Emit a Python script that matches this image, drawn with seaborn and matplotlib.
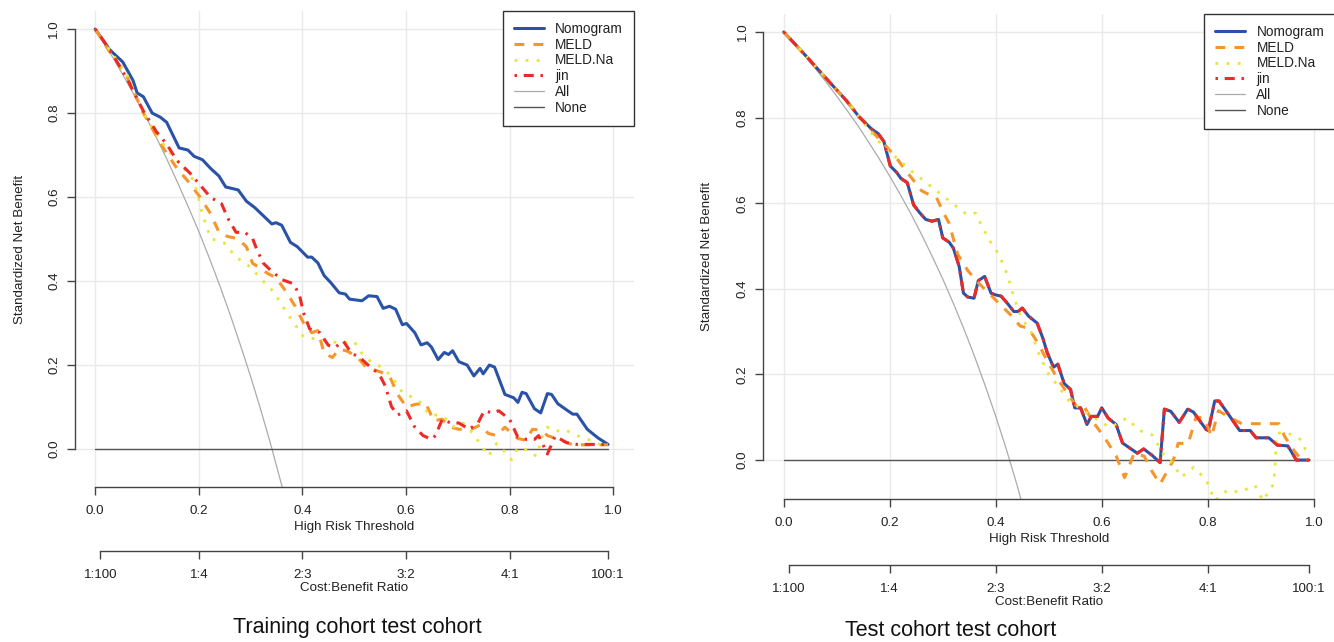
import matplotlib

matplotlib.use("Agg")

import matplotlib.pyplot as plt
import seaborn as sns

# (threshold, standardized net benefit)
train_nomogram = [
    (0.0, 1.0), (0.028, 0.951), (0.053, 0.922), (0.073, 0.878), (0.081, 0.848),
    (0.093, 0.839), (0.110, 0.800), (0.126, 0.790), (0.138, 0.778), (0.162, 0.717),
    (0.179, 0.712), (0.191, 0.697), (0.207, 0.689), (0.223, 0.668), (0.239, 0.650),
    (0.252, 0.624), (0.276, 0.617), (0.292, 0.590), (0.308, 0.575), (0.325, 0.555),
    (0.341, 0.536), (0.349, 0.539), (0.360, 0.533), (0.377, 0.492), (0.390, 0.482),
    (0.410, 0.457), (0.418, 0.457), (0.430, 0.443), (0.442, 0.413), (0.455, 0.396),
    (0.471, 0.372), (0.483, 0.369), (0.491, 0.357), (0.515, 0.353), (0.528, 0.365),
    (0.544, 0.363), (0.556, 0.335), (0.568, 0.340), (0.580, 0.333), (0.593, 0.296),
    (0.601, 0.299), (0.617, 0.277), (0.629, 0.248), (0.641, 0.253), (0.649, 0.243),
    (0.662, 0.213), (0.674, 0.230), (0.682, 0.225), (0.690, 0.234), (0.702, 0.208),
    (0.718, 0.200), (0.731, 0.174), (0.743, 0.192), (0.749, 0.179), (0.761, 0.200),
    (0.771, 0.195), (0.791, 0.130), (0.808, 0.122), (0.816, 0.111), (0.824, 0.135),
    (0.832, 0.132), (0.848, 0.096), (0.860, 0.086), (0.873, 0.132), (0.881, 0.130),
    (0.893, 0.108), (0.909, 0.094), (0.922, 0.083), (0.930, 0.083), (0.950, 0.047),
    (0.970, 0.027), (0.990, 0.011),
]
train_meld = [
    (0.0, 1.0), (0.028, 0.946), (0.061, 0.888), (0.093, 0.800), (0.118, 0.746),
    (0.134, 0.712), (0.158, 0.668), (0.179, 0.638), (0.203, 0.599), (0.223, 0.560),
    (0.239, 0.516), (0.256, 0.506), (0.276, 0.501), (0.292, 0.481), (0.304, 0.442),
    (0.317, 0.432), (0.333, 0.418), (0.349, 0.408), (0.369, 0.374), (0.386, 0.340),
    (0.402, 0.301), (0.418, 0.277), (0.430, 0.282), (0.442, 0.228), (0.458, 0.218),
    (0.471, 0.238), (0.487, 0.233), (0.507, 0.218), (0.524, 0.193), (0.540, 0.188),
    (0.552, 0.183), (0.568, 0.174), (0.584, 0.130), (0.601, 0.100), (0.617, 0.106),
    (0.637, 0.110), (0.645, 0.091), (0.653, 0.067), (0.670, 0.071), (0.686, 0.052),
    (0.702, 0.047), (0.726, 0.047), (0.743, 0.057), (0.759, 0.037), (0.775, 0.032),
    (0.791, 0.052), (0.804, 0.037), (0.816, 0.025), (0.832, 0.021), (0.844, 0.047),
    (0.860, 0.045), (0.873, 0.032), (0.897, 0.022), (0.922, 0.010), (0.954, 0.010),
    (0.990, 0.010),
]
train_meldna = [
    (0.0, 1.0), (0.061, 0.892), (0.093, 0.800), (0.120, 0.745), (0.148, 0.700),
    (0.166, 0.677), (0.191, 0.638), (0.207, 0.560), (0.223, 0.501), (0.248, 0.492),
    (0.272, 0.457), (0.300, 0.433), (0.321, 0.404), (0.345, 0.374), (0.369, 0.326),
    (0.386, 0.296), (0.402, 0.267), (0.426, 0.262), (0.450, 0.257), (0.475, 0.252),
    (0.499, 0.257), (0.515, 0.228), (0.532, 0.208), (0.548, 0.198), (0.572, 0.174),
    (0.593, 0.135), (0.609, 0.125), (0.629, 0.110), (0.645, 0.081), (0.662, 0.081),
    (0.678, 0.071), (0.694, 0.052), (0.710, 0.062), (0.726, 0.042), (0.743, 0.013),
    (0.759, -0.017), (0.775, 0.013), (0.791, -0.007), (0.804, -0.026), (0.816, 0.003),
    (0.832, -0.002), (0.852, -0.017), (0.864, 0.032), (0.873, 0.052), (0.889, 0.042),
    (0.905, 0.047), (0.930, 0.032), (0.954, 0.022), (0.990, 0.003),
]
train_jin = [
    (0.0, 1.0), (0.028, 0.951), (0.061, 0.883), (0.093, 0.805), (0.118, 0.756),
    (0.138, 0.726), (0.158, 0.687), (0.183, 0.657), (0.203, 0.628), (0.223, 0.599),
    (0.244, 0.584), (0.256, 0.550), (0.272, 0.516), (0.289, 0.516), (0.304, 0.501),
    (0.313, 0.472), (0.325, 0.442), (0.341, 0.423), (0.361, 0.403), (0.382, 0.394),
    (0.394, 0.369), (0.402, 0.325), (0.414, 0.286), (0.434, 0.277), (0.450, 0.247),
    (0.463, 0.242), (0.479, 0.257), (0.495, 0.228), (0.511, 0.218), (0.532, 0.194),
    (0.548, 0.179), (0.560, 0.150), (0.572, 0.101), (0.584, 0.081), (0.601, 0.091),
    (0.617, 0.052), (0.633, 0.032), (0.649, 0.023), (0.657, 0.032), (0.670, 0.071),
    (0.686, 0.062), (0.702, 0.062), (0.722, 0.047), (0.739, 0.062), (0.751, 0.091),
    (0.767, 0.086), (0.779, 0.091), (0.800, 0.071), (0.816, 0.028), (0.832, 0.023),
    (0.848, 0.023), (0.856, 0.032), (0.873, -0.012), (0.888, 0.031), (0.910, 0.015),
    (0.930, 0.011), (0.990, 0.011),
]
train_all = [
    (0.0, 1.0), (0.02, 0.961), (0.04, 0.920), (0.06, 0.877), (0.08, 0.832),
    (0.10, 0.786), (0.12, 0.737), (0.14, 0.686), (0.16, 0.632), (0.18, 0.576),
    (0.20, 0.518), (0.22, 0.456), (0.24, 0.391), (0.26, 0.322), (0.28, 0.249),
    (0.30, 0.173), (0.32, 0.092), (0.34, 0.006), (0.36, -0.086), (0.37, -0.134),
]

# test cohort panel (Nomogram and jin lie on top of each other)
test_nomogram = [
    (0.0, 1.0), (0.039, 0.948), (0.079, 0.893), (0.118, 0.840), (0.142, 0.802),
    (0.166, 0.773), (0.178, 0.763), (0.189, 0.744), (0.201, 0.687), (0.213, 0.672),
    (0.221, 0.658), (0.233, 0.648), (0.245, 0.596), (0.257, 0.577), (0.268, 0.562),
    (0.280, 0.558), (0.292, 0.562), (0.300, 0.519), (0.312, 0.509), (0.320, 0.495),
    (0.331, 0.452), (0.339, 0.390), (0.347, 0.381), (0.359, 0.378), (0.367, 0.419),
    (0.379, 0.429), (0.391, 0.390), (0.399, 0.386), (0.410, 0.383), (0.422, 0.366),
    (0.434, 0.347), (0.442, 0.347), (0.450, 0.355), (0.462, 0.336), (0.478, 0.320),
    (0.489, 0.284), (0.497, 0.251), (0.509, 0.217), (0.517, 0.224), (0.529, 0.179),
    (0.541, 0.165), (0.549, 0.122), (0.560, 0.122), (0.572, 0.083), (0.580, 0.102),
    (0.592, 0.102), (0.600, 0.122), (0.612, 0.098), (0.627, 0.083), (0.639, 0.040),
    (0.655, 0.026), (0.667, 0.016), (0.679, 0.026), (0.695, 0.011), (0.710, -0.006),
    (0.718, 0.119), (0.730, 0.114), (0.746, 0.088), (0.762, 0.119), (0.773, 0.112),
    (0.797, 0.071), (0.801, 0.069), (0.813, 0.138), (0.821, 0.138), (0.836, 0.112),
    (0.860, 0.069), (0.880, 0.069), (0.891, 0.052), (0.915, 0.052), (0.931, 0.035),
    (0.951, 0.033), (0.967, 0.0), (0.991, 0.0),
]
test_meld = [
    (0.0, 1.0), (0.039, 0.948), (0.079, 0.893), (0.118, 0.840), (0.166, 0.768),
    (0.189, 0.739), (0.213, 0.705), (0.233, 0.672), (0.245, 0.653), (0.260, 0.629),
    (0.276, 0.619), (0.288, 0.614), (0.300, 0.581), (0.312, 0.553), (0.328, 0.481),
    (0.347, 0.443), (0.367, 0.414), (0.391, 0.385), (0.410, 0.361), (0.430, 0.337),
    (0.446, 0.313), (0.462, 0.308), (0.481, 0.270), (0.497, 0.232), (0.517, 0.189),
    (0.533, 0.160), (0.552, 0.126), (0.568, 0.122), (0.584, 0.088), (0.604, 0.055),
    (0.627, 0.010), (0.643, -0.041), (0.661, 0.016), (0.680, 0.009), (0.695, -0.027),
    (0.710, -0.056), (0.735, 0.0), (0.744, 0.039), (0.763, 0.039), (0.778, 0.101),
    (0.794, 0.097), (0.807, 0.055), (0.820, 0.115), (0.845, 0.097), (0.864, 0.085),
    (0.934, 0.085), (0.945, 0.055), (0.962, 0.023), (0.977, 0.0), (0.991, 0.0),
]
test_meldna = [
    (0.0, 1.0), (0.040, 0.947), (0.080, 0.892), (0.120, 0.838), (0.163, 0.768),
    (0.176, 0.748), (0.200, 0.720), (0.242, 0.674), (0.274, 0.643), (0.321, 0.597),
    (0.346, 0.573), (0.362, 0.577), (0.371, 0.554), (0.387, 0.515), (0.406, 0.480),
    (0.422, 0.433), (0.432, 0.390), (0.447, 0.335), (0.466, 0.300), (0.484, 0.240),
    (0.500, 0.200), (0.517, 0.174), (0.537, 0.140), (0.560, 0.120), (0.584, 0.100),
    (0.616, 0.076), (0.647, 0.098), (0.671, 0.069), (0.695, 0.059), (0.718, 0.010),
    (0.734, -0.008), (0.750, -0.040), (0.773, -0.017), (0.797, -0.046), (0.813, -0.095),
    (0.837, -0.070), (0.860, -0.075), (0.889, -0.059), (0.904, -0.095), (0.924, -0.056),
    (0.927, -0.008), (0.930, 0.062), (0.946, 0.066), (0.977, 0.047), (0.990, 0.005),
]
test_jin = list(test_nomogram)
test_all = [
    (0.0, 1.0), (0.02, 0.973), (0.04, 0.944), (0.06, 0.914), (0.08, 0.883),
    (0.10, 0.850), (0.12, 0.816), (0.14, 0.781), (0.16, 0.743), (0.18, 0.704),
    (0.20, 0.663), (0.22, 0.620), (0.24, 0.575), (0.26, 0.527), (0.28, 0.476),
    (0.30, 0.423), (0.32, 0.366), (0.34, 0.306), (0.36, 0.242), (0.38, 0.174),
    (0.40, 0.102), (0.42, 0.025), (0.44, -0.058), (0.46, -0.148),
]
none_line = [(0.0, 0.0), (0.99, 0.0)]

risk_ticks = [0.0, 0.2, 0.4, 0.6, 0.8, 1.0]
cb_ticks = [0.01, 0.2, 0.4, 0.6, 0.8, 0.99]
cb_labels = ["1:100", "1:4", "2:3", "3:2", "4:1", "100:1"]
nb_ticks = [0.0, 0.2, 0.4, 0.6, 0.8, 1.0]

STYLES = {
    "Nomogram": dict(color="#2a52a6", linewidth=2.2, linestyle="-"),
    "MELD": dict(color="#f7952b", linewidth=2.2, linestyle=(0, (3.2, 3.0))),
    "MELD.Na": dict(color="#e6e636", linewidth=2.0, linestyle=(0, (1, 3))),
    "jin": dict(color="#ee2a26", linewidth=2.2, linestyle=(0, (0.8, 2.2, 3.3, 2.2))),
    "All": dict(color="#ababab", linewidth=0.9, linestyle="-"),
    "None": dict(color="#555555", linewidth=1.0, linestyle="-"),
}
ORDER = ["Nomogram", "MELD", "MELD.Na", "jin", "All", "None"]
INK = "#222222"

sns.set_theme(style="white")
plt.rcParams["font.family"] = ["Liberation Sans", "DejaVu Sans"]
plt.rcParams["text.color"] = INK
plt.rcParams["axes.labelcolor"] = INK
plt.rcParams["xtick.color"] = "#444444"
plt.rcParams["ytick.color"] = "#444444"


def draw_panel(ax, curves, ylim, cb_offset):
    ax.set_xlim(-0.039, 1.04)
    ax.set_ylim(*ylim)
    ax.grid(True, color="#eaeaea", linewidth=1.0)
    ax.set_axisbelow(True)

    for name in ["All", "None", "Nomogram", "MELD", "MELD.Na", "jin"]:
        pts = curves[name]
        sns.lineplot(
            x=[p[0] for p in pts],
            y=[p[1] for p in pts],
            ax=ax,
            sort=False,
            estimator=None,
            label=name,
            dash_capstyle="butt",
            **STYLES[name],
        )

    handles, labels = ax.get_legend_handles_labels()
    lookup = dict(zip(labels, handles))
    leg = ax.legend(
        [lookup[n] for n in ORDER], ORDER,
        loc="upper right", bbox_to_anchor=(1.0, 1.0), borderaxespad=0,
        fontsize=9.8, frameon=True, fancybox=False, framealpha=1,
        edgecolor="#333333", handlelength=2.2, handletextpad=0.85,
        labelspacing=0.13, borderpad=0.8,
    )
    leg.get_frame().set_linewidth(1.0)

    for side in ["top", "right"]:
        ax.spines[side].set_visible(False)
    for side in ["left", "bottom"]:
        ax.spines[side].set_color("#444444")
        ax.spines[side].set_linewidth(1.0)
        ax.spines[side].set_bounds(0, 1)

    ax.set_xticks(risk_ticks)
    ax.set_xticklabels([f"{t:.1f}" for t in risk_ticks])
    ax.set_yticks(nb_ticks)
    ax.set_yticklabels([f"{t:.1f}" for t in nb_ticks], rotation=90, va="center")
    ax.tick_params(axis="x", length=6, width=1.0, labelsize=9.6, pad=7,
                   bottom=True, labelcolor=INK)
    ax.tick_params(axis="y", length=6, width=1.0, labelsize=9.6, pad=4.5,
                   left=True, labelcolor=INK)
    ax.set_xlabel("High Risk Threshold", fontsize=9.6, labelpad=3)
    ax.set_ylabel("Standardized Net Benefit", fontsize=9.6)
    ax.yaxis.set_label_coords(-0.088, 0.5)

    # cost:benefit ratio axis under the threshold axis
    cb = ax.twiny()
    cb.set_xlim(ax.get_xlim())
    cb.xaxis.set_ticks_position("bottom")
    cb.xaxis.set_label_position("bottom")
    cb.grid(False)
    for side in ["top", "right", "left"]:
        cb.spines[side].set_visible(False)
    cb.spines["bottom"].set_position(("outward", cb_offset))
    cb.spines["bottom"].set_bounds(0.01, 0.99)
    cb.spines["bottom"].set_color("#444444")
    cb.spines["bottom"].set_linewidth(1.0)
    cb.set_xticks(cb_ticks)
    cb.set_xticklabels(cb_labels)
    cb.tick_params(length=6, width=1.0, labelsize=9.6, pad=7, bottom=True,
                   top=False, labelcolor=INK)
    cb.set_xlabel("Cost:Benefit Ratio", fontsize=9.6, labelpad=1)


fig = plt.figure(figsize=(13.34, 6.42), dpi=100)
fig.patch.set_facecolor("white")

ax_train = fig.add_axes([0.0562, 0.2414, 0.4190, 0.7414])
draw_panel(
    ax_train,
    {"Nomogram": train_nomogram, "MELD": train_meld, "MELD.Na": train_meldna,
     "jin": train_jin, "All": train_all, "None": none_line},
    ylim=(-0.0905, 1.043),
    cb_offset=46,
)

ax_test = fig.add_axes([0.5720, 0.2227, 0.4288, 0.7555])
draw_panel(
    ax_test,
    {"Nomogram": test_nomogram, "MELD": test_meld, "MELD.Na": test_meldna,
     "jin": test_jin, "All": test_all, "None": none_line},
    ylim=(-0.091, 1.042),
    cb_offset=47.5,
)

fig.text(357 / 1334, 1 - 627 / 642, "Training cohort test cohort",
         ha="center", va="center", fontsize=15.5, color="#111111")
fig.text(951 / 1334, 1 - 630 / 642, "Test cohort test cohort",
         ha="center", va="center", fontsize=15.5, color="#111111")

fig.savefig("out.png", dpi=100, facecolor="white")
